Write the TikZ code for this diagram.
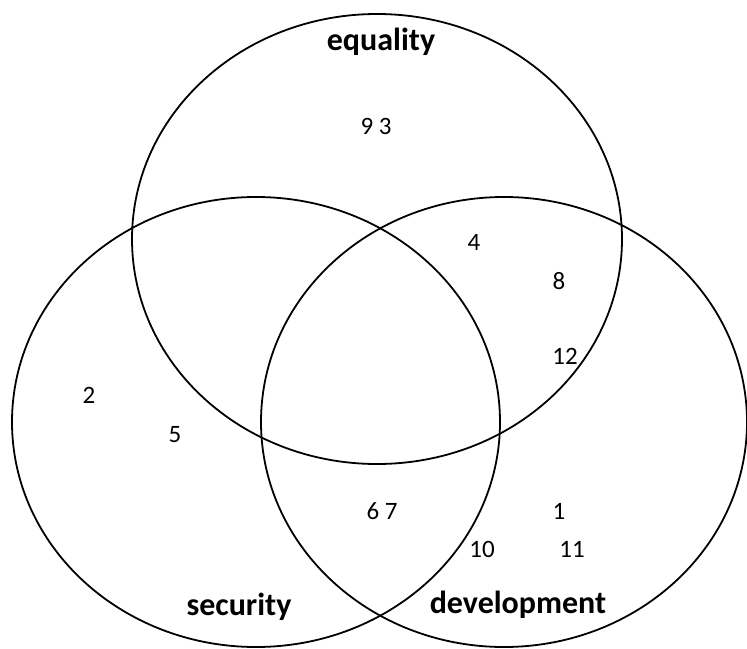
\documentclass[tikz,border=0pt]{standalone}
\usepackage{fontspec}
\setmainfont{Carlito}
\begin{document}
\begin{tikzpicture}[x=1pt,y=-1pt,
  setline/.style={line width=1.8pt, black},
  num/.style={anchor=base, inner sep=0pt, font=\fontsize{25}{30}\selectfont},
  lbl/.style={anchor=base, inner sep=0pt, font=\bfseries\fontsize{32}{38}\selectfont}]
\useasboundingbox (0,0) rectangle (747,648);
\coordinate (ceq) at (377,239);
\coordinate (csec) at (256,422);
\coordinate (cdev) at (504,422);
\draw[setline] (ceq) ellipse [x radius=245pt, y radius=225pt];
\draw[setline] (csec) ellipse [x radius=244pt, y radius=225pt];
\draw[setline] (cdev) ellipse [x radius=243pt, y radius=225pt];
\node[lbl] (leq) at (381,50) {equality};
\node[lbl] (lsec) at (239,615) {security};
\node[lbl] (ldev) at (518,613) {development};
\node[num] (n93) at (376,134) {9 3};
\node[num] (n4) at (474,250) {4};
\node[num] (n8) at (559,289) {8};
\node[num] (n12) at (565,364) {12};
\node[num] (n2) at (89,403) {2};
\node[num] (n5) at (175,442) {5};
\node[num] (n67) at (382,519) {6 7};
\node[num] (n1) at (559,519) {1};
\node[num] (n10) at (482,557) {10};
\node[num] (n11) at (572,557) {11};
\end{tikzpicture}
\end{document}
